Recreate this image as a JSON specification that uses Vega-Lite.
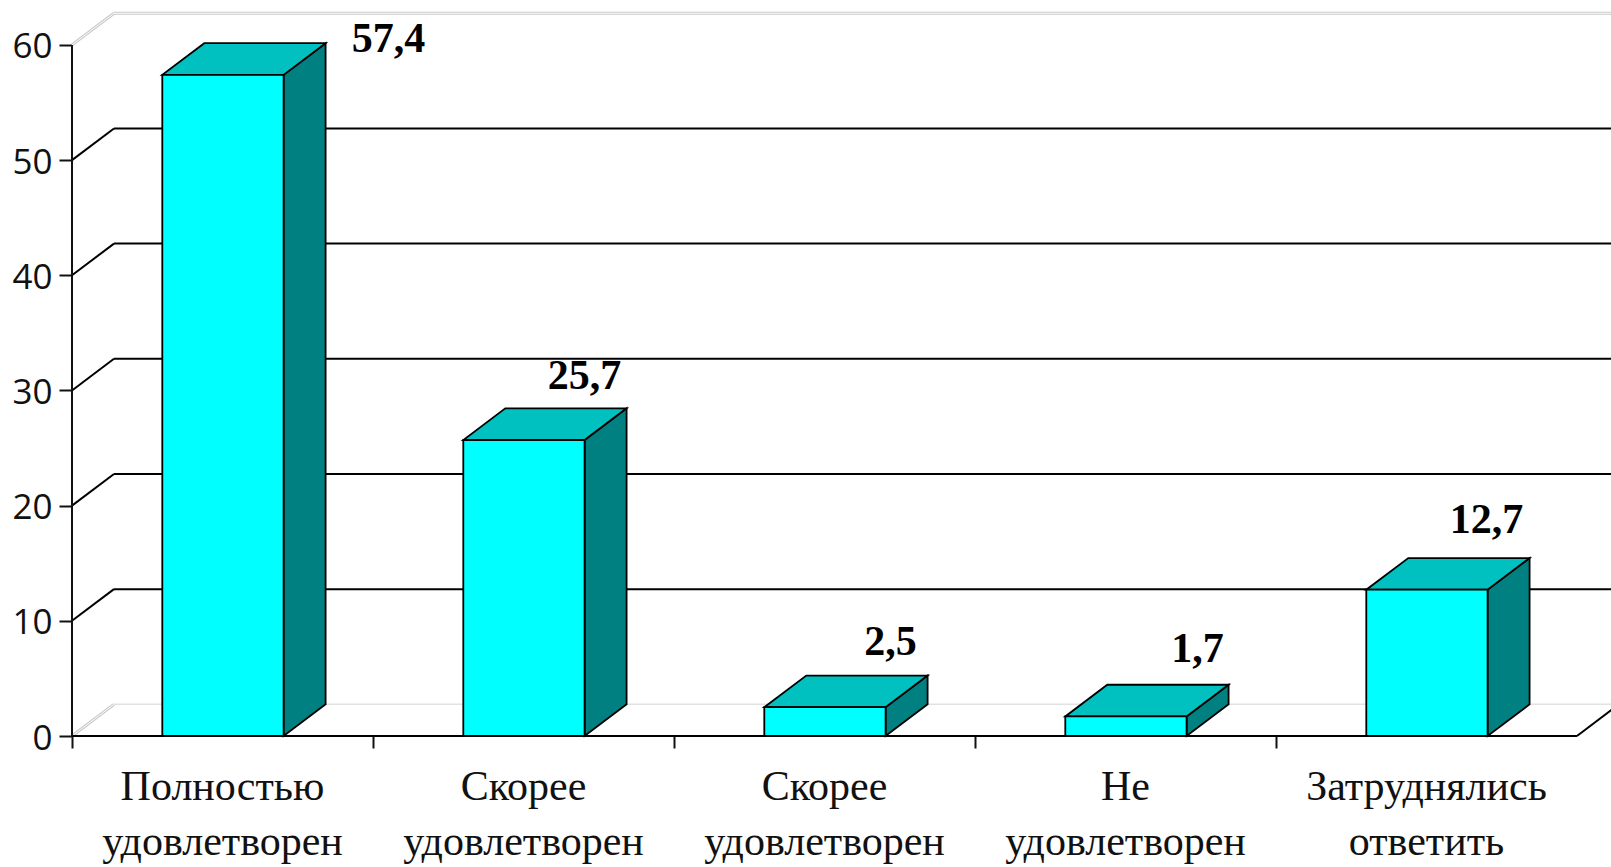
{
"$schema":"https://vega.github.io/schema/vega-lite/v6.json",
"width":1539,"height":736,"autosize":{"type":"none"},
"padding":{"left":72,"top":0,"right":0,"bottom":131},
"background":"white",
"config":{"view":{"stroke":null},"axis":{"grid":false,"title":null}},
"datasets":{
"ticks":[{"tick":0},{"tick":10},{"tick":20},{"tick":30},{"tick":40},{"tick":50},{"tick":60}],
"bars":[
{"label":"Полностью\nудовлетворен","value":57.4},
{"label":"Скорее\nудовлетворен","value":25.7},
{"label":"Скорее\nудовлетворен","value":2.5},
{"label":"Не\nудовлетворен","value":1.7},
{"label":"Затруднялись\nответить","value":12.7}]},
"data":{"name":"bars"},
"transform":[
{"window":[{"op":"row_number","as":"n"}]},
{"calculate":"datum.n-1","as":"i"},
{"calculate":"datum.i+0.3","as":"x0"},
{"calculate":"datum.i+0.703","as":"x1"},
{"calculate":"datum.i+0.5","as":"xc"},
{"calculate":"replace(format(datum.value,'.1f'),'.',',')","as":"vt"},
{"calculate":"0","as":"near"},
{"calculate":"1","as":"far"}],
"layer":[
{"data":{"name":"ticks"},"mark":{"type":"rule","stroke":"#e2e2e2","strokeWidth":1.5},"transform":[{"filter":"datum.tick==0"},{"calculate":"datum.tick+2.75","as":"back"}],
 "encoding":{"x":{"datum":0.1395,"type":"quantitative","scale":{"domain":[0,5.113],"nice":false},"axis":{"title":null,"values":[0,1,2,3,4],"labels":false,"domain":false,"tickSize":12,"tickWidth":2,"tickColor":"#111"}},"x2":{"datum":5.113},
 "y":{"field":"back","type":"quantitative","scale":{"domain":[0,63.9],"nice":false},"axis":{"title":null,"values":[0,10,20,30,40,50,60],"domain":false,"tickSize":13,"tickWidth":2,"tickColor":"#111","labelPadding":7,"labelFont":"Open Sans","labelFontSize":35,"labelColor":"#111","labelBaseline":"middle","labelOffset":2}}}},
{"data":{"name":"ticks"},"mark":{"type":"rule","stroke":"#c8c8c8","strokeWidth":3},"transform":[{"filter":"datum.tick==60"},{"calculate":"datum.tick+2.75","as":"back"}],
 "encoding":{"x":{"datum":0.1395,"type":"quantitative","scale":{"domain":[0,5.113],"nice":false}},"x2":{"datum":5.113},"y":{"field":"back","type":"quantitative","scale":{"domain":[0,63.9],"nice":false}}}},
{"data":{"name":"ticks"},"mark":{"type":"rule","stroke":"white","strokeWidth":1},"transform":[{"filter":"datum.tick==60"},{"calculate":"datum.tick+2.75","as":"back"}],
 "encoding":{"x":{"datum":0.1395,"type":"quantitative","scale":{"domain":[0,5.113],"nice":false}},"x2":{"datum":5.113},"y":{"field":"back","type":"quantitative","scale":{"domain":[0,63.9],"nice":false}}}},
{"data":{"name":"ticks"},"mark":{"type":"rule","stroke":"#c8c8c8","strokeWidth":3},"transform":[{"filter":"datum.tick==60||datum.tick==0"},{"calculate":"datum.tick+2.75","as":"back"}],
 "encoding":{"x":{"datum":0,"type":"quantitative","scale":{"domain":[0,5.113],"nice":false}},"x2":{"datum":0.1395},"y":{"field":"tick","type":"quantitative","scale":{"domain":[0,63.9],"nice":false}},"y2":{"field":"back"}}},
{"data":{"name":"ticks"},"mark":{"type":"rule","stroke":"white","strokeWidth":1},"transform":[{"filter":"datum.tick==60||datum.tick==0"},{"calculate":"datum.tick+2.75","as":"back"}],
 "encoding":{"x":{"datum":0,"type":"quantitative","scale":{"domain":[0,5.113],"nice":false}},"x2":{"datum":0.1395},"y":{"field":"tick","type":"quantitative","scale":{"domain":[0,63.9],"nice":false}},"y2":{"field":"back"}}},
{"data":{"name":"ticks"},"mark":{"type":"rule","stroke":"black","strokeWidth":2},"transform":[{"filter":"datum.tick>0&&datum.tick<60"},{"calculate":"datum.tick+2.75","as":"back"}],
 "encoding":{"x":{"datum":0.1395,"type":"quantitative","scale":{"domain":[0,5.113],"nice":false}},"x2":{"datum":5.113},"y":{"field":"back","type":"quantitative","scale":{"domain":[0,63.9],"nice":false}}}},
{"data":{"name":"ticks"},"mark":{"type":"rule","stroke":"black","strokeWidth":2},"transform":[{"filter":"datum.tick>0&&datum.tick<60"},{"calculate":"datum.tick+2.75","as":"back"}],
 "encoding":{"x":{"datum":0,"type":"quantitative","scale":{"domain":[0,5.113],"nice":false}},"x2":{"datum":0.1395},"y":{"field":"tick","type":"quantitative","scale":{"domain":[0,63.9],"nice":false}},"y2":{"field":"back"}}},
{"data":{"name":"ticks"},"mark":{"type":"rule","stroke":"black","strokeWidth":2},"transform":[{"filter":"datum.tick==0"},{"calculate":"datum.tick+2.75","as":"back"}],
 "encoding":{"x":{"datum":5,"type":"quantitative","scale":{"domain":[0,5.113],"nice":false}},"x2":{"datum":5.1395},"y":{"field":"tick","type":"quantitative","scale":{"domain":[0,63.9],"nice":false}},"y2":{"field":"back"}}},
{"mark":{"type":"area","fill":"#008080","stroke":"black","strokeWidth":1.8,"interpolate":"linear"},
 "transform":[{"fold":["near","far"],"as":["side","t"]},{"calculate":"datum.x1+datum.t*0.1395","as":"xs"},{"calculate":"datum.t*2.75","as":"ylo"},{"calculate":"datum.value+datum.t*2.75","as":"yhi"}],
 "encoding":{"x":{"field":"xs","type":"quantitative","scale":{"domain":[0,5.113],"nice":false}},"y":{"field":"yhi","type":"quantitative","scale":{"domain":[0,63.9],"nice":false}},"y2":{"field":"ylo"},"detail":{"field":"i"}}},
{"mark":{"type":"area","orient":"horizontal","fill":"#00c0c0","stroke":"black","strokeWidth":1.8,"interpolate":"linear"},
 "transform":[{"fold":["near","far"],"as":["side","t"]},{"calculate":"datum.x0+datum.t*0.1395","as":"xa"},{"calculate":"datum.x1+datum.t*0.1395","as":"xb"},{"calculate":"datum.value+datum.t*2.75","as":"ys"}],
 "encoding":{"y":{"field":"ys","type":"quantitative","scale":{"domain":[0,63.9],"nice":false}},"x":{"field":"xb","type":"quantitative","scale":{"domain":[0,5.113],"nice":false}},"x2":{"field":"xa"},"detail":{"field":"i"}}},
{"mark":{"type":"rect","fill":"#00ffff","stroke":"black","strokeWidth":1.8},
 "encoding":{"x":{"field":"x0","type":"quantitative","scale":{"domain":[0,5.113],"nice":false}},"x2":{"field":"x1"},"y":{"field":"value","type":"quantitative","scale":{"domain":[0,63.9],"nice":false}},"y2":{"datum":0}}},
{"data":{"name":"ticks"},"mark":{"type":"rule","stroke":"black","strokeWidth":2.2},"transform":[{"filter":"datum.tick==0"}],
 "encoding":{"x":{"datum":0,"type":"quantitative","scale":{"domain":[0,5.113],"nice":false}},"x2":{"datum":5},"y":{"field":"tick","type":"quantitative","scale":{"domain":[0,63.9],"nice":false}}}},
{"data":{"name":"ticks"},"mark":{"type":"rule","stroke":"#111","strokeWidth":2},"transform":[{"filter":"datum.tick==60"},{"calculate":"0","as":"base"}],
 "encoding":{"x":{"datum":0,"type":"quantitative","scale":{"domain":[0,5.113],"nice":false}},"y":{"field":"tick","type":"quantitative","scale":{"domain":[0,63.9],"nice":false}},"y2":{"field":"base"}}},
{"mark":{"type":"text","font":"Liberation Serif","fontSize":42,"lineBreak":"\n","lineHeight":54.5,"baseline":"top","align":"center","dy":31,"color":"#111"},
 "encoding":{"x":{"field":"xc","type":"quantitative","scale":{"domain":[0,5.113],"nice":false}},"y":{"datum":0,"type":"quantitative","scale":{"domain":[0,63.9],"nice":false}},"text":{"field":"label"}}},
{"mark":{"type":"text","font":"Liberation Serif","fontWeight":"bold","fontSize":42,"baseline":"middle","align":"center","dx":166,"dy":-36,"color":"black"},"transform":[{"filter":"datum.n==1"}],
 "encoding":{"x":{"field":"xc","type":"quantitative","scale":{"domain":[0,5.113],"nice":false}},"y":{"field":"value","type":"quantitative","scale":{"domain":[0,63.9],"nice":false}},"text":{"field":"vt"}}},
{"mark":{"type":"text","font":"Liberation Serif","fontWeight":"bold","fontSize":42,"baseline":"middle","align":"center","dx":61,"dy":-64,"color":"black"},"transform":[{"filter":"datum.n==2"}],
 "encoding":{"x":{"field":"xc","type":"quantitative","scale":{"domain":[0,5.113],"nice":false}},"y":{"field":"value","type":"quantitative","scale":{"domain":[0,63.9],"nice":false}},"text":{"field":"vt"}}},
{"mark":{"type":"text","font":"Liberation Serif","fontWeight":"bold","fontSize":42,"baseline":"middle","align":"center","dx":66,"dy":-65,"color":"black"},"transform":[{"filter":"datum.n==3"}],
 "encoding":{"x":{"field":"xc","type":"quantitative","scale":{"domain":[0,5.113],"nice":false}},"y":{"field":"value","type":"quantitative","scale":{"domain":[0,63.9],"nice":false}},"text":{"field":"vt"}}},
{"mark":{"type":"text","font":"Liberation Serif","fontWeight":"bold","fontSize":42,"baseline":"middle","align":"center","dx":72,"dy":-67,"color":"black"},"transform":[{"filter":"datum.n==4"}],
 "encoding":{"x":{"field":"xc","type":"quantitative","scale":{"domain":[0,5.113],"nice":false}},"y":{"field":"value","type":"quantitative","scale":{"domain":[0,63.9],"nice":false}},"text":{"field":"vt"}}},
{"mark":{"type":"text","font":"Liberation Serif","fontWeight":"bold","fontSize":42,"baseline":"middle","align":"center","dx":60,"dy":-70,"color":"black"},"transform":[{"filter":"datum.n==5"}],
 "encoding":{"x":{"field":"xc","type":"quantitative","scale":{"domain":[0,5.113],"nice":false}},"y":{"field":"value","type":"quantitative","scale":{"domain":[0,63.9],"nice":false}},"text":{"field":"vt"}}}
]
}
